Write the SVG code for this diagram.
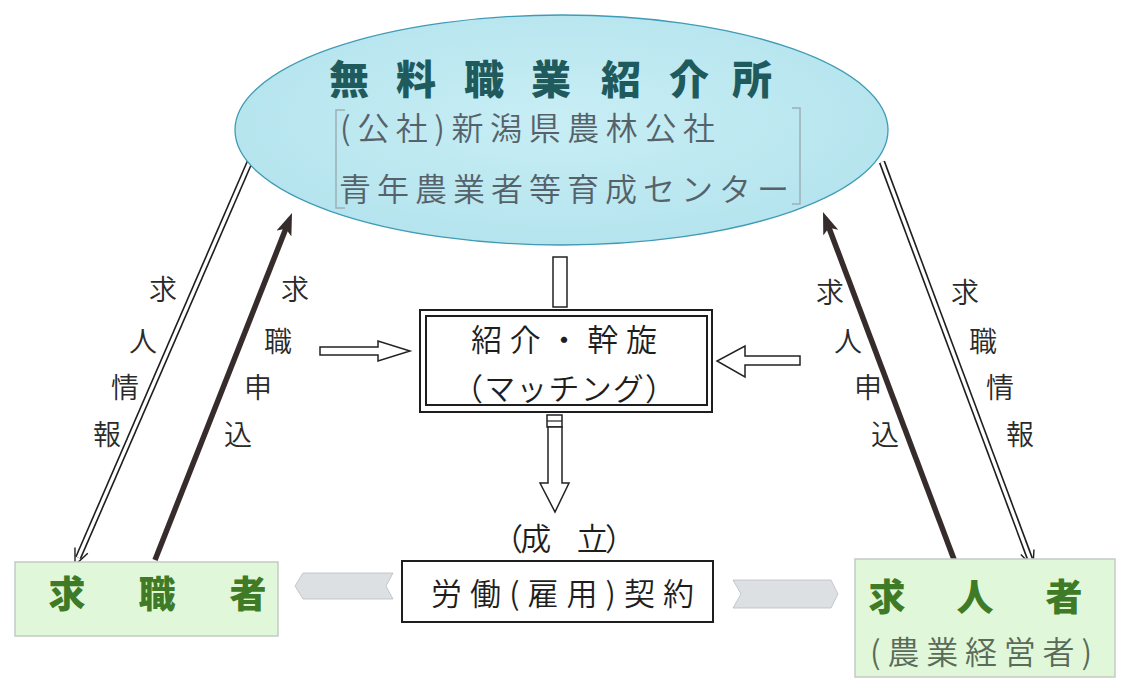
<svg xmlns="http://www.w3.org/2000/svg" width="1130" height="698" viewBox="0 0 1130 698">
<style>
.jp{font-family:"Noto Sans CJK JP","Noto Sans CJK SC",sans-serif;}
.lbl{font-size:28px;fill:#2a2a2a;text-anchor:middle;font-weight:350;}
.mid{font-size:31px;fill:#1e1e1e;font-weight:350;}
.sub{font-size:32px;fill:#56626a;font-weight:350;}
.grn{font-size:37px;fill:#3f7a26;font-weight:900;text-anchor:middle;}
.box{fill:#fff;stroke:#1e1e1e;stroke-width:2;}
.hol{fill:#fff;stroke:#222;stroke-width:1.5;stroke-linejoin:miter;}
.thick{stroke:#362c2c;stroke-width:5.5;fill:none;}
.dbl{stroke:#1e1e1e;stroke-width:6.5;fill:none;}
.dblin{stroke:#fff;stroke-width:3.3;fill:none;}
.chev{fill:#dde0e3;stroke:#b9bdc1;stroke-width:0.8;}
.gbox{fill:#e1f7d9;stroke:#c3cbc3;stroke-width:1.5;}
.brk{fill:none;stroke:#9db0b6;stroke-width:1.5;}
</style>
<defs>
<radialGradient id="eg" cx="0.5" cy="0.45" r="0.6">
<stop offset="0" stop-color="#c8eef5"/>
<stop offset="1" stop-color="#b3e3ed"/>
</radialGradient>
<marker id="mThick" viewBox="0 0 22 16" refX="7" refY="8" markerWidth="22" markerHeight="16" markerUnits="userSpaceOnUse" orient="auto">
<path d="M0,0 L22,8 L0,16 L5,8 z" fill="#362c2c"/>
</marker>
<marker id="mDbl" viewBox="-1 -1 19 16" refX="8" refY="7" markerWidth="19" markerHeight="16" markerUnits="userSpaceOnUse" orient="auto">
<path d="M0,0 L16,7 L0,14" fill="none" stroke="#1e1e1e" stroke-width="1.4"/>
</marker>
</defs>
<rect width="1130" height="698" fill="#fff"/>

<g id="connectors">
<line class="dbl" x1="251" y1="159" x2="78.2" y2="557.7" marker-end="url(#mDbl)"/>
<line class="dblin" x1="251" y1="159" x2="78.2" y2="557.7"/>
<line class="dbl" x1="882" y1="162" x2="1030.2" y2="559.5" marker-end="url(#mDbl)"/>
<line class="dblin" x1="882" y1="162" x2="1030.2" y2="559.5"/>
<line class="thick" x1="155" y1="560" x2="286.5" y2="227" marker-end="url(#mThick)"/>
<line class="thick" x1="955" y1="562" x2="828.3" y2="226" marker-end="url(#mThick)"/>
<rect class="hol" x="553" y="257" width="14" height="50"/>
<polygon class="hol" points="320,347 378,347 378,341 410,351 378,361 378,355 320,355"/>
<polygon class="hol" points="800,356 745,356 745,346 717,361 745,377 745,365 800,365"/>
<rect class="hol" x="547" y="415" width="15" height="12"/>
<line x1="547" y1="421" x2="562" y2="421" stroke="#222" stroke-width="1.2"/>
<polygon class="hol" points="548,427 562,427 562,483 569,483 555,512 540,483 548,483"/>
<polygon class="chev" points="295,586 303,573 393,573 386,586 393,599 303,599"/>
<polygon class="chev" points="733,580 831,580 838,594 831,608 733,608 741,594"/>
</g>

<g id="center-ellipse">
<ellipse cx="561.5" cy="130" rx="326.5" ry="115" fill="url(#eg)" stroke="#3f9bb5" stroke-width="1.3"/>
<text class="jp" x="329 396 464 531 601 669 732" y="94" font-size="40" font-weight="900" fill="#1f5a5c">無料職業紹介所</text>
<path class="brk" d="M345,110 L336,110 L336,208 L345,208"/>
<path class="brk" d="M792,108 L800,108 L800,204 L792,204"/>
<text class="jp sub" x="340" y="140" textLength="375" lengthAdjust="spacing">(公社)新潟県農林公社</text>
<text class="jp sub" x="339" y="201" textLength="450" lengthAdjust="spacing">青年農業者等育成センター</text>
</g>

<g id="left-labels">
<text class="jp lbl" x="163" y="300">求</text>
<text class="jp lbl" x="143" y="352">人</text>
<text class="jp lbl" x="125" y="398">情</text>
<text class="jp lbl" x="107" y="445">報</text>
<text class="jp lbl" x="295" y="300">求</text>
<text class="jp lbl" x="278" y="352">職</text>
<text class="jp lbl" x="258" y="398">申</text>
<text class="jp lbl" x="238" y="445">込</text>
</g>

<g id="right-labels">
<text class="jp lbl" x="830" y="303">求</text>
<text class="jp lbl" x="848" y="352">人</text>
<text class="jp lbl" x="868" y="398">申</text>
<text class="jp lbl" x="885" y="445">込</text>
<text class="jp lbl" x="965" y="303">求</text>
<text class="jp lbl" x="983" y="352">職</text>
<text class="jp lbl" x="1000" y="398">情</text>
<text class="jp lbl" x="1020" y="445">報</text>
</g>

<g id="matching">
<rect class="box" x="420" y="310" width="292" height="102"/>
<rect class="box" x="426" y="316" width="281" height="89"/>
<text class="jp mid" x="471" y="351" textLength="186" lengthAdjust="spacing">紹介・幹旋</text>
<text class="jp mid" x="452" y="400" textLength="224" lengthAdjust="spacing">（マッチング）</text>
</g>

<g id="established">
<text class="jp mid" x="492" y="550" textLength="144" lengthAdjust="spacing">（成　立）</text>
</g>

<g id="contract">
<rect class="box" x="402" y="561" width="311" height="61"/>
<text class="jp mid" x="431" y="605" font-size="34" textLength="263" lengthAdjust="spacing">労働(雇用)契約</text>
</g>

<g id="job-seeker">
<rect class="gbox" x="15" y="562" width="263" height="74"/>
<text class="jp grn" x="67" y="608">求</text>
<text class="jp grn" x="157" y="608">職</text>
<text class="jp grn" x="248" y="608">者</text>
</g>

<g id="employer">
<rect class="gbox" x="855" y="559" width="260" height="118"/>
<text class="jp grn" x="887" y="611">求</text>
<text class="jp grn" x="975" y="611">人</text>
<text class="jp grn" x="1064" y="611">者</text>
<text class="jp sub" x="870" y="664" style="fill:#5a6b5a" textLength="222" lengthAdjust="spacing">(農業経営者)</text>
</g>
</svg>
